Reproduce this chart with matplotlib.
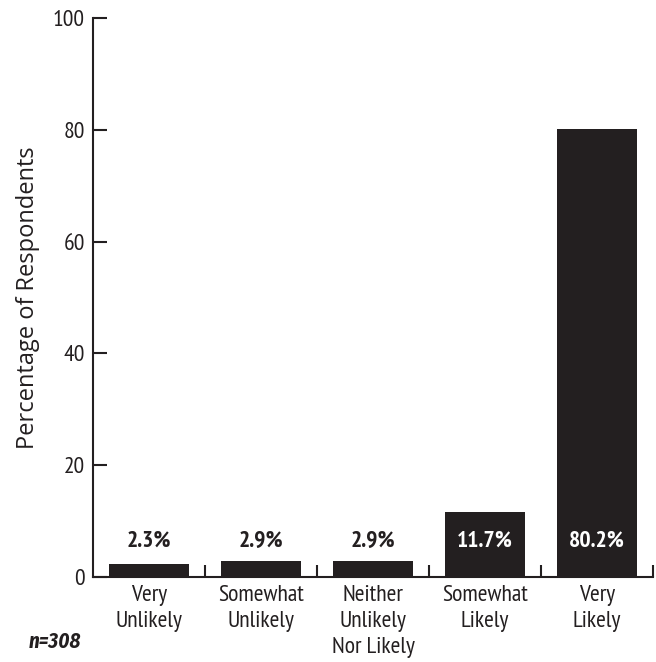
import matplotlib.pyplot as plt
import numpy as np

categories = ['Very\nUnlikely', 'Somewhat\nUnlikely', 'Neither\nUnlikely\nNor Likely', 'Somewhat\nLikely', 'Very\nLikely']
values = [2.3, 2.9, 2.9, 11.7, 80.2]
labels = ['2.3%', '2.9%', '2.9%', '11.7%', '80.2%']
yticks = [0, 20, 40, 60, 80, 100]

plt.rcParams['font.family'] = ['PT Sans Narrow', 'DejaVu Sans']

dark = '#231f20'

fig = plt.figure(figsize=(6.56, 6.62), dpi=100)
ax = fig.add_axes([0.1418, 0.1284, 0.8536, 0.8444])

x = np.arange(len(values))
ax.bar(x, values, width=0.72, color=dark)

for xi, v, lab in zip(x, values, labels):
    col = 'white' if v > 8 else dark
    ax.text(xi, 6.4, lab, ha='center', va='center', fontsize=17, fontweight='bold', color=col)

ax.set_xlim(-0.5, len(values) - 0.5)
ax.set_ylim(0, 100)
ax.set_yticks(yticks)
ax.set_yticklabels([str(t) for t in yticks], fontsize=17, color=dark)

ax.set_xticks(x)
ax.set_xticklabels(categories, fontsize=17, color=dark, linespacing=1.3, va='top')
ax.tick_params(axis='x', length=0, pad=6)
# boundary ticks between categories
ax.set_xticks(np.arange(len(values)) + 0.5, minor=True)
ax.tick_params(axis='x', which='minor', direction='in', length=9, width=1.5, color=dark)
ax.tick_params(axis='y', direction='in', length=10, width=1.5, color=dark, pad=6)

for s in ['top', 'right']:
    ax.spines[s].set_visible(False)
for s in ['left', 'bottom']:
    ax.spines[s].set_linewidth(1.5)
    ax.spines[s].set_color(dark)

ax.set_ylabel('Percentage of Respondents', fontsize=17, color=dark, labelpad=9,
              family=['Open Sans', 'DejaVu Sans'])

fig.text(0.043, 0.015, 'n=308', fontsize=15, fontweight='bold', fontstyle='italic', color=dark, va='bottom',
         family=['Fira Sans Condensed', 'DejaVu Sans'])

fig.savefig('out.png', dpi=100)
